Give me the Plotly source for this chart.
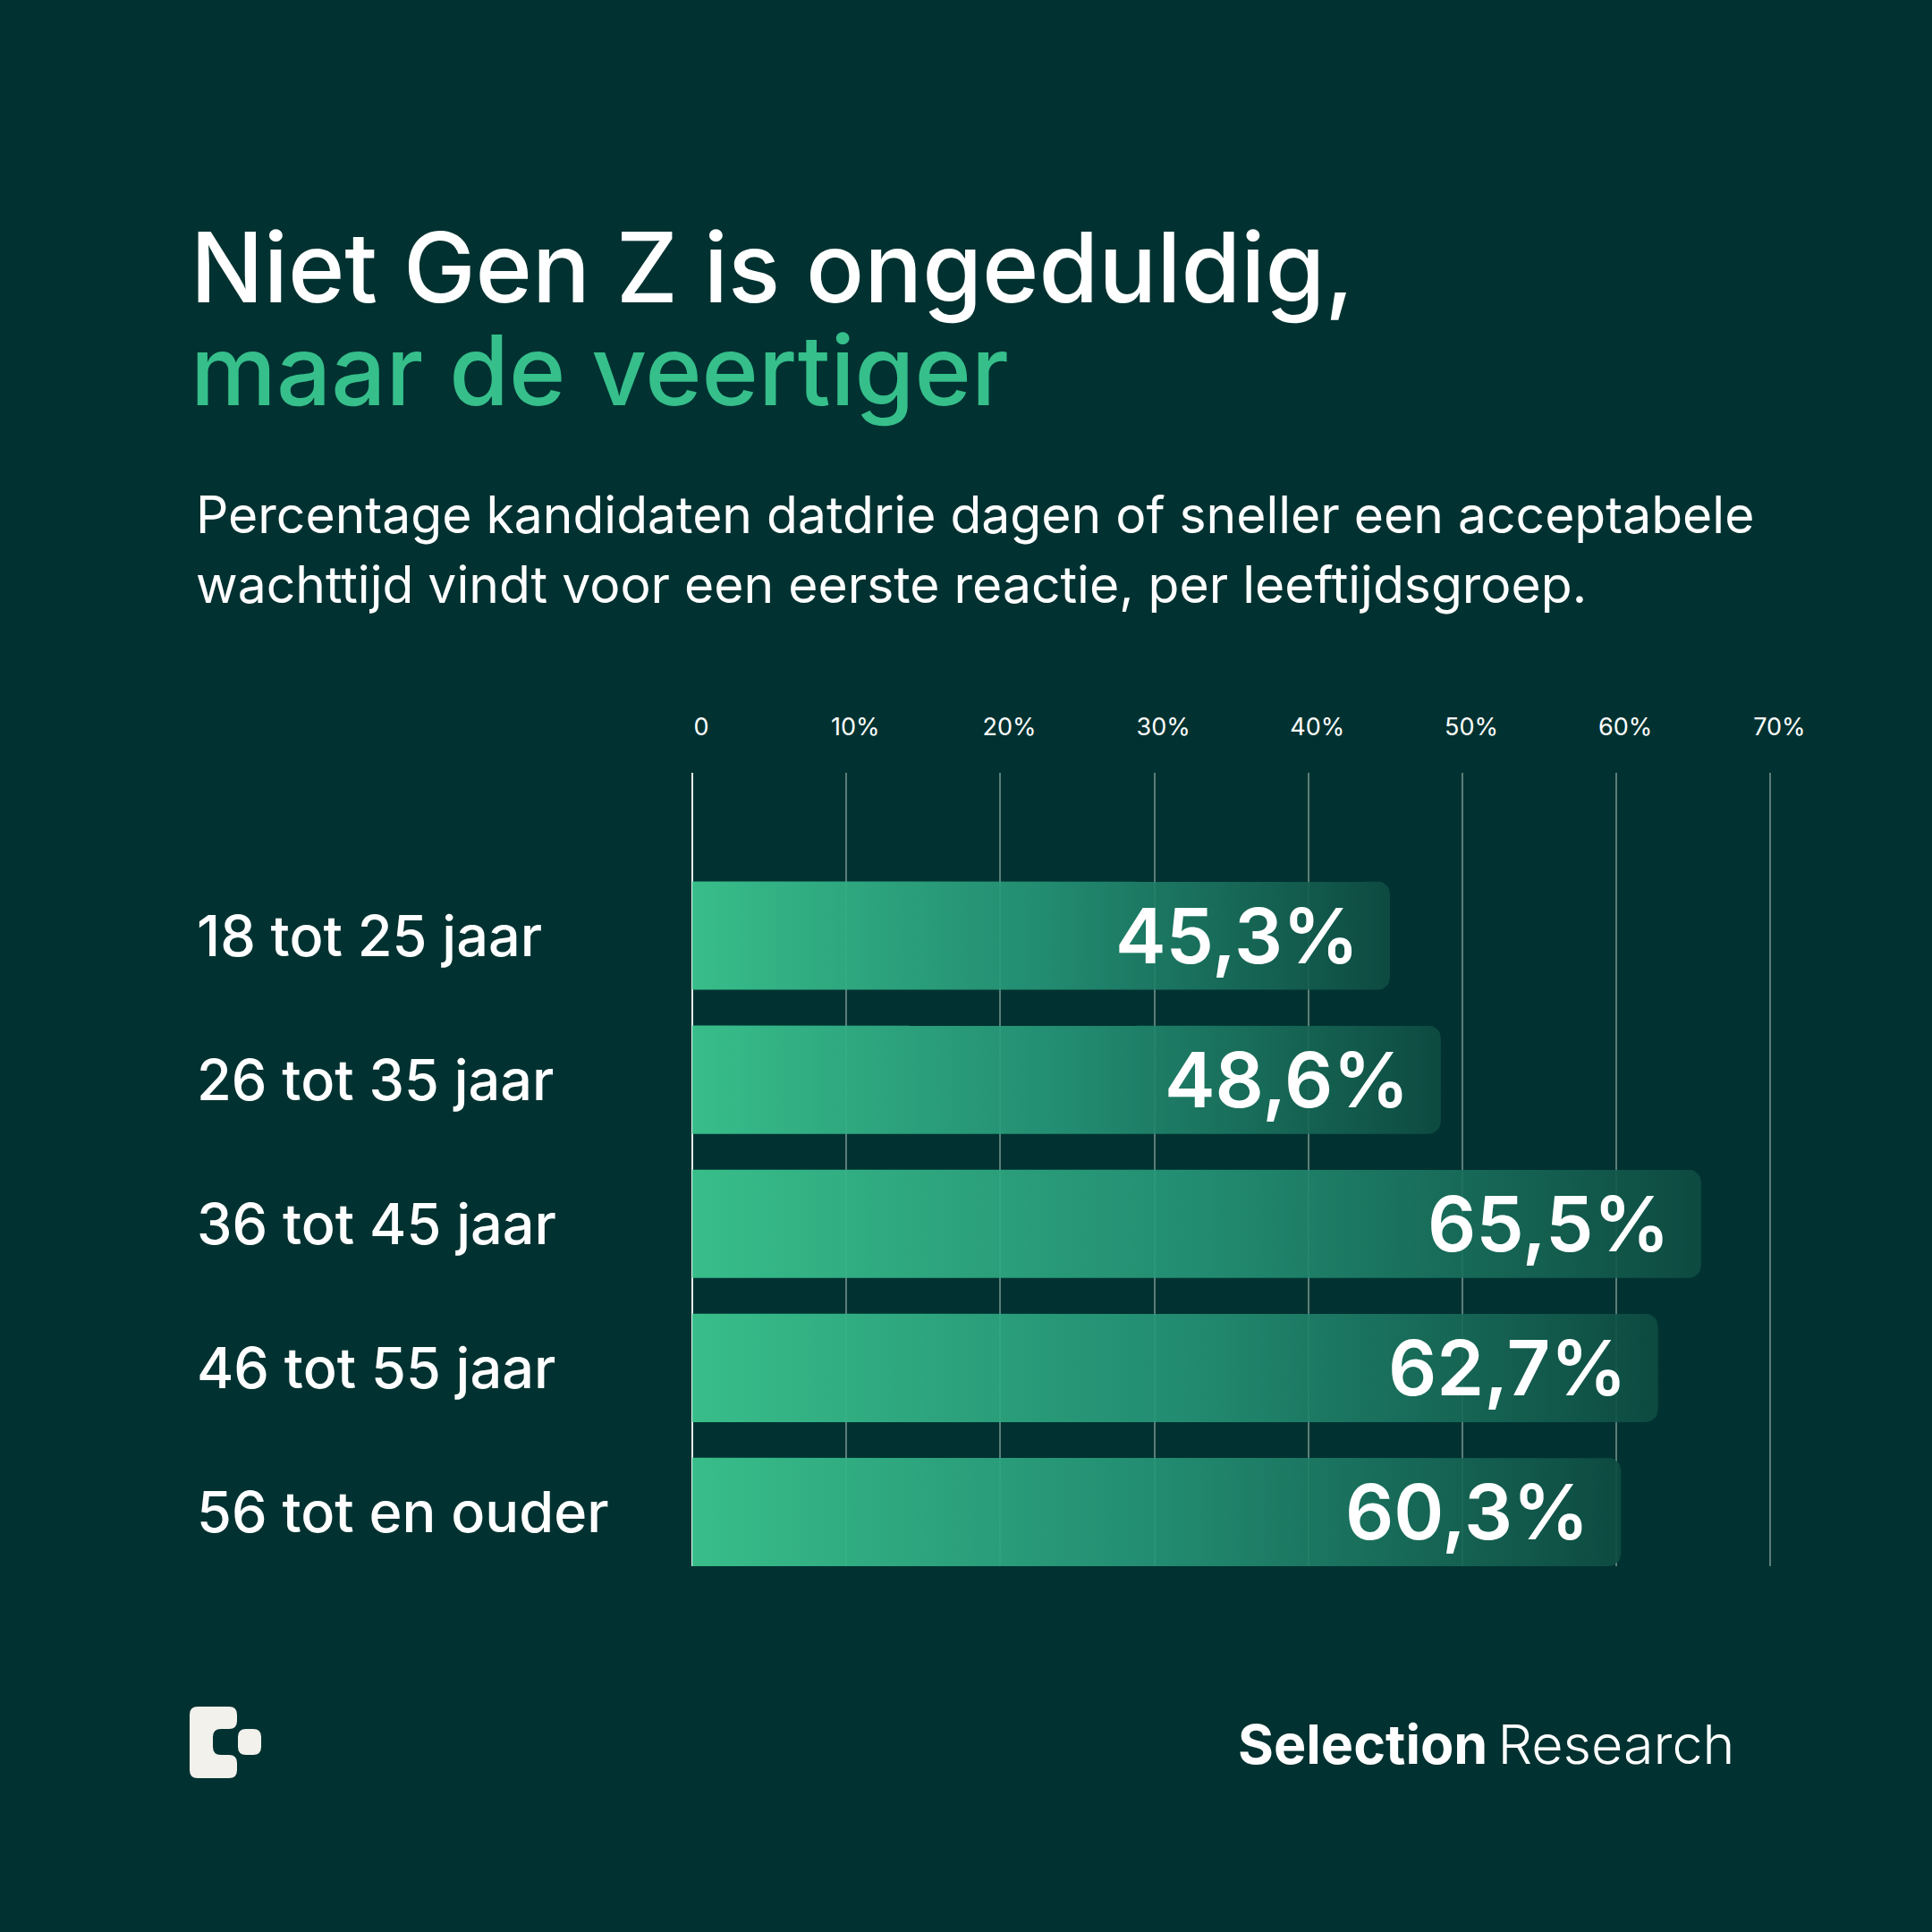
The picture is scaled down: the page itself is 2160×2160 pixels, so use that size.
import numpy as np
import plotly.graph_objects as go

# data
age_groups = ['18 tot 25 jaar', '26 tot 35 jaar', '36 tot 45 jaar', '46 tot 55 jaar', '56 tot en ouder']
pct_values = [45.3, 48.6, 65.5, 62.7, 60.3]
tick_vals = [0, 10, 20, 30, 40, 50, 60, 70]
tick_text = ['0', '10%', '20%', '30%', '40%', '50%', '60%', '70%']

# colors
BG = '#013231'
GREEN = '#36BF8B'
WHITE = '#FFFFFF'
CREAM = '#F3F1EC'
GRID = '#5C7D78'

W = H = 2160
BAR_HALF = 0.376
RX, RY = 0.8, 0.087  # rounded right corner, in axis units


def px(x, y):
    # figure pixel -> paper coords (margins are zero)
    return x / W, 1 - y / H


def bar_outline(v, yc):
    y0, y1 = yc - BAR_HALF, yc + BAR_HALF
    t = np.linspace(0, np.pi / 2, 8)
    xs = [0, v - RX]
    ys = [y0, y0]
    xs += list(v - RX + RX * np.sin(t))
    ys += list(y0 + RY - RY * np.cos(t))
    xs += list(v - RX + RX * np.cos(t))
    ys += list(y1 - RY + RY * np.sin(t))
    xs += [0, 0]
    ys += [y1, y0]
    return xs, ys


fig = go.Figure()

for i, (lab, v) in enumerate(zip(age_groups, pct_values)):
    xs, ys = bar_outline(v, i)
    fig.add_trace(go.Scatter(
        x=xs, y=ys, mode='lines', fill='toself',
        line=dict(width=0),
        fillgradient=dict(
            type='horizontal',
            colorscale=[[0, 'rgba(58,194,141,0.97)'], [0.5, 'rgba(38,150,120,0.9)'],
                        [1, 'rgba(14,76,66,0.92)']],
            start=0, stop=v),
        hoverinfo='skip', showlegend=False))
    # value label inside the bar
    fig.add_annotation(x=v, y=i, xref='x', yref='y', text=f'{v:.1f}%'.replace('.', ','),
                       xanchor='right', yanchor='middle', xshift=-33, showarrow=False,
                       font=dict(family='Inter', size=85, color=WHITE, weight=600))
    # category label on the left
    fig.add_annotation(x=218 / W, y=i, xref='paper', yref='y', text=lab,
                       xanchor='left', yanchor='middle', showarrow=False,
                       font=dict(family='Inter', size=63, color=WHITE, weight=500))

# titles
x0, _ = px(211, 0)
fig.add_annotation(x=x0, y=px(0, 298)[1], xref='paper', yref='paper',
                   text='Niet Gen Z is ongeduldig,', xanchor='left', yanchor='middle',
                   showarrow=False, font=dict(family='Inter', size=108, color=WHITE, weight=500))
fig.add_annotation(x=x0, y=px(0, 414)[1], xref='paper', yref='paper',
                   text='maar de veertiger', xanchor='left', yanchor='middle',
                   showarrow=False, font=dict(family='Inter', size=108, color=GREEN, weight=500))
x1, _ = px(217, 0)
fig.add_annotation(x=x1, y=px(0, 575)[1], xref='paper', yref='paper',
                   text='Percentage kandidaten datdrie dagen of sneller een acceptabele',
                   xanchor='left', yanchor='middle', showarrow=False,
                   font=dict(family='Inter', size=57, color=WHITE, weight=400))
fig.add_annotation(x=x1, y=px(0, 653)[1], xref='paper', yref='paper',
                   text='wachttijd vindt voor een eerste reactie, per leeftijdsgroep.',
                   xanchor='left', yanchor='middle', showarrow=False,
                   font=dict(family='Inter', size=57, color=WHITE, weight=400))

# footer brand
fig.add_annotation(x=px(1942, 0)[0], y=px(0, 1950)[1], xref='paper', yref='paper',
                   text='<b>Selection</b><span style="font-weight:300">\u2009Research</span>',
                   xanchor='right', yanchor='middle', showarrow=False,
                   font=dict(family='Inter', size=61, color=WHITE))

# logo
def logo_path(pts):
    out = []
    for cmd, coords in pts:
        s = cmd
        for (a, b) in coords:
            pxx, pyy = px(a, b)
            s += f' {pxx:.5f},{pyy:.5f}'
        out.append(s)
    return ' '.join(out) + ' Z'

r = 9
L, R, T, B = 212, 265, 1908, 1988
nt, nb, nx = 1933, 1962, 238
big = [
    ('M', [(L + r, T)]), ('L', [(R - r, T)]), ('Q', [(R, T), (R, T + r)]),
    ('L', [(R, nt - r)]), ('Q', [(R, nt), (R - r, nt)]),
    ('L', [(nx + r, nt)]), ('Q', [(nx, nt), (nx, nt + r)]),
    ('L', [(nx, nb - r)]), ('Q', [(nx, nb), (nx + r, nb)]),
    ('L', [(R - r, nb)]), ('Q', [(R, nb), (R, nb + r)]),
    ('L', [(R, B - r)]), ('Q', [(R, B), (R - r, B)]),
    ('L', [(L + r, B)]), ('Q', [(L, B), (L, B - r)]),
    ('L', [(L, T + r)]), ('Q', [(L, T), (L + r, T)]),
]
sL, sR = 266, 292
small = [
    ('M', [(sL + r, nt)]), ('L', [(sR - r, nt)]), ('Q', [(sR, nt), (sR, nt + r)]),
    ('L', [(sR, nb - r)]), ('Q', [(sR, nb), (sR - r, nb)]),
    ('L', [(sL + r, nb)]), ('Q', [(sL, nb), (sL, nb - r)]),
    ('L', [(sL, nt + r)]), ('Q', [(sL, nt), (sL + r, nt)]),
]
for p in (big, small):
    fig.add_shape(type='path', path=logo_path(p), xref='paper', yref='paper',
                  fillcolor=CREAM, line=dict(width=0))

fig.update_layout(
    width=W, height=H,
    paper_bgcolor=BG, plot_bgcolor=BG,
    margin=dict(l=0, r=0, t=0, b=0),
    hovermode=False,
    xaxis=dict(
        domain=[772.3 / W, 1996.6 / W], range=[-0.1, 71],
        side='top', tickvals=tick_vals, ticktext=tick_text,
        tickfont=dict(family='Inter', size=27, color=WHITE),
        ticks='', ticklabelstandoff=36, ticklabelshift=10,
        showgrid=True, gridcolor=GRID, gridwidth=2,
        zeroline=True, zerolinecolor='#E6ECEA', zerolinewidth=2,
        showline=False, fixedrange=True, automargin=False,
    ),
    yaxis=dict(
        domain=[1 - 1751 / H, 1 - 864 / H], range=[4.376, -1.13],
        showticklabels=False, showgrid=False, zeroline=False, showline=False,
        fixedrange=True, automargin=False,
    ),
)

fig.write_html('out.html', config={'displayModeBar': False},
               post_script="document.body.style.margin='0';")
